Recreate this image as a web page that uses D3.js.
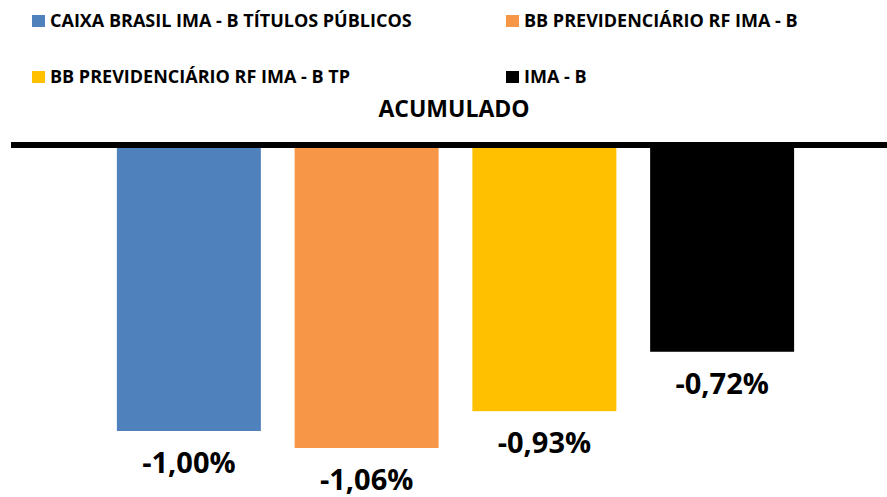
<!DOCTYPE html>
<html>
<head>
<meta charset="utf-8">
<script src="https://cdn.jsdelivr.net/npm/d3@7"></script>
<style>
  html, body { margin: 0; padding: 0; background: #fff; }
  svg { display: block; font-family: "Open Sans", "Liberation Sans", sans-serif; }
</style>
</head>
<body>
<div id="vis-display"></div>
<script>
// Accumulated return per fund vs. IMA-B benchmark

const FUNDS  = ["CAIXA BRASIL IMA - B TÍTULOS PÚBLICOS", "BB PREVIDENCIÁRIO RF IMA - B", "BB PREVIDENCIÁRIO RF IMA - B TP", "IMA - B"];
const VALUES = [-1.00, -1.06, -0.93, -0.72];
const COLORS = ["#4F81BD", "#F79646", "#FFC000", "#000000"];
const TITLE  = "ACUMULADO";

const W = 887, H = 497;

const svg = d3.select("#vis-display").append("svg")
  .attr("width", W)
  .attr("height", H);

// ── Scales ────────────────────────────────────────────────────────────────

const x = d3.scaleBand()
  .domain(FUNDS)
  .range([100, 811])
  .paddingInner(0.19)
  .paddingOuter(0.095);

const y = d3.scaleLinear()
  .domain([0, -1.2])
  .range([148, 148 + 1.2 * 283]);

const color = d3.scaleOrdinal().domain(FUNDS).range(COLORS);
const fmt = v => (v < 0 ? "-" : "") + Math.abs(v).toFixed(2).replace(".", ",") + "%";

// ── Legend ────────────────────────────────────────────────────────────────

const legendPos = [[32, 21], [506, 21], [32, 77], [506, 77]];

const legend = svg.append("g")
  .selectAll("g")
  .data(FUNDS)
  .join("g")
    .attr("transform", (d, i) => `translate(${legendPos[i][0]},${legendPos[i][1]})`);

legend.append("rect")
  .attr("x", 0).attr("y", -6)
  .attr("width", 13).attr("height", 12)
  .attr("fill", d => color(d));

legend.append("text")
  .attr("x", 18)
  .attr("dy", "0.35em")
  .style("font-size", "18px")
  .style("font-weight", "bold")
  .style("fill", "#000")
  .text(d => d);

// ── Title ─────────────────────────────────────────────────────────────────

svg.append("text")
  .attr("x", 454)
  .attr("y", 117)
  .attr("text-anchor", "middle")
  .style("font-size", "23px")
  .style("font-weight", "bold")
  .text(TITLE);

// ── Bars ──────────────────────────────────────────────────────────────────

svg.append("g")
  .selectAll("rect")
  .data(FUNDS)
  .join("rect")
    .attr("x", d => x(d))
    .attr("width", x.bandwidth())
    .attr("y", y(0))
    .attr("height", (d, i) => y(VALUES[i]) - y(0))
    .attr("fill", d => color(d));

// zero line
svg.append("line")
  .attr("x1", 11).attr("x2", W)
  .attr("y1", y(0) - 3).attr("y2", y(0) - 3)
  .attr("stroke", "#000")
  .attr("stroke-width", 6);

// ── Value labels ──────────────────────────────────────────────────────────

svg.append("g")
  .selectAll("text")
  .data(FUNDS)
  .join("text")
    .attr("x", d => x(d) + x.bandwidth() / 2)
    .attr("y", (d, i) => y(VALUES[i]) + 42)
    .attr("text-anchor", "middle")
    .style("font-size", "29px")
    .style("font-weight", "bold")
    .text((d, i) => fmt(VALUES[i]));
</script>
</body>
</html>
